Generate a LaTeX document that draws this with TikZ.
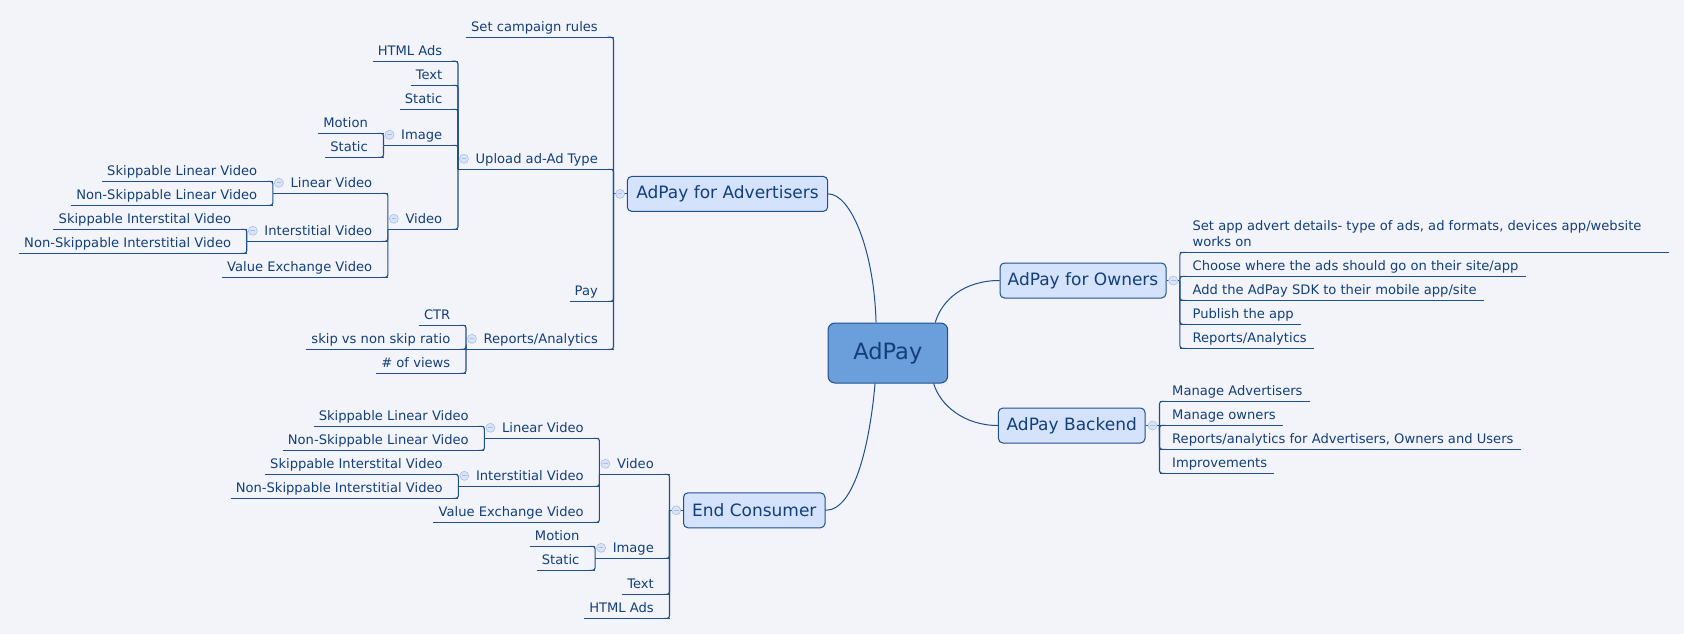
\documentclass[tikz,border=0pt]{standalone}
\usepackage{fontspec}
\setmainfont{DejaVu Sans}
\definecolor{bg}{HTML}{F3F4F9}
\definecolor{lnc}{HTML}{1F4F8C}
\definecolor{txc}{HTML}{123F7A}
\definecolor{ctrfill}{HTML}{6A9FDB}
\definecolor{brfill}{HTML}{D4E2FB}
\definecolor{colfill}{HTML}{D9E4F7}
\definecolor{coldraw}{HTML}{A9BFE6}
\tikzset{
  conn/.style={draw=lnc, line width=1.1pt},
  elbow/.style={conn, rounded corners=2.5pt},
  topicbase/.style={inner xsep=0pt, inner ysep=5.5pt, text height=10pt, text depth=0pt,
    text=txc, font=\fontsize{13.1}{16}\selectfont},
  leafL/.style={topicbase, anchor=south east,
    execute at begin node={\hspace{5pt}}, execute at end node={\hspace{15.5pt}}},
  parL/.style={topicbase, anchor=south east,
    execute at begin node={\hspace{17.5pt}}, execute at end node={\hspace{15.5pt}}},
  leafR/.style={topicbase, anchor=south west,
    execute at begin node={\hspace{12.5pt}}, execute at end node={\hspace{7pt}}},
  branch/.style={draw=lnc, line width=1pt, fill=brfill, rounded corners=4.5pt,
    minimum height=35pt, inner sep=0pt, text=txc, font=\fontsize{17}{20}\selectfont},
  centre/.style={draw=lnc, line width=1pt, fill=ctrfill, rounded corners=7pt,
    minimum width=119.7pt, minimum height=60pt, inner sep=0pt, text=txc,
    font=\fontsize{22.5}{27}\selectfont},
  collapse/.style={circle, draw=coldraw, fill=colfill, minimum size=9pt, inner sep=0pt,
    line width=0.6pt,
    path picture={\draw[coldraw, line width=0.9pt]
      ([xshift=-2.3pt]path picture bounding box.center) --
      ([xshift=2.3pt]path picture bounding box.center);}}
}
\begin{document}
\begin{tikzpicture}[x=1pt,y=-1pt]
\fill[bg] (0,0) rectangle (1684,634);
\useasboundingbox (0,0) rectangle (1684,634);

% centre and main branches
\node[centre] (ctr) at (887.85,353) {AdPay};
\node[branch, minimum width=200.4pt] (adv) at (727.5,193.9) {AdPay for Advertisers};
\node[branch, minimum width=166pt] (own) at (1083,280.5) {AdPay for Owners};
\node[branch, minimum width=146.6pt] (back) at (1071.7,425.5) {AdPay Backend};
\node[branch, minimum width=141.5pt] (ec) at (754.25,510.3) {End Consumer};

\coordinate (jA) at ([shift={(-13.3,0)}]adv.west);
\coordinate (jO) at ([shift={(13.4,0)}]own.east);
\coordinate (jB) at ([shift={(14,0)}]back.east);
\coordinate (jE) at ([shift={(-13.5,0)}]ec.west);

% Advertisers topics
\node[leafL] (scr) at (jA |- 0,37.3) {Set campaign rules};
\node[parL] (upl) at (jA |- 0,169.3) {Upload ad-Ad Type};
\node[leafL] (pay) at (jA |- 0,301.3) {Pay};
\node[parL] (rep) at (jA |- 0,349.3) {Reports/Analytics};
\node[leafL] (html) at (upl.south west |- 0,61.3) {HTML Ads};
\node[leafL] (txt) at (upl.south west |- 0,85.3) {Text};
\node[leafL] (sta) at (upl.south west |- 0,109.3) {Static};
\node[parL] (img) at (upl.south west |- 0,145.3) {Image};
\node[parL] (vid) at (upl.south west |- 0,229.3) {Video};
\node[leafL] (mot) at (img.south west |- 0,133.3) {Motion};
\node[leafL] (ista) at (img.south west |- 0,157.3) {Static};
\node[parL] (lin) at (vid.south west |- 0,193.3) {Linear Video};
\node[parL] (int) at (vid.south west |- 0,241.3) {Interstitial Video};
\node[leafL] (vev) at (vid.south west |- 0,277.3) {Value Exchange Video};
\node[leafL] (slv) at (lin.south west |- 0,181.3) {Skippable Linear Video};
\node[leafL] (nslv) at (lin.south west |- 0,205.3) {Non-Skippable Linear Video};
\node[leafL] (siv) at (int.south west |- 0,229.3) {Skippable Interstital Video};
\node[leafL] (nsiv) at (int.south west |- 0,253.3) {Non-Skippable Interstitial Video};
\node[leafL] (ctrr) at (rep.south west |- 0,325.3) {CTR};
\node[leafL] (skr) at (rep.south west |- 0,349.3) {skip vs non skip ratio};
\node[leafL] (nov) at (rep.south west |- 0,373.3) {\# of views};

% End Consumer topics
\node[parL] (evid) at (jE |- 0,474.3) {Video};
\node[parL] (eimg) at (jE |- 0,558.3) {Image};
\node[leafL] (etxt) at (jE |- 0,594.3) {Text};
\node[leafL] (ehtml) at (jE |- 0,618.3) {HTML Ads};
\node[parL] (elin) at (evid.south west |- 0,438.3) {Linear Video};
\node[parL] (eint) at (evid.south west |- 0,486.3) {Interstitial Video};
\node[leafL] (evev) at (evid.south west |- 0,522.3) {Value Exchange Video};
\node[leafL] (eslv) at (elin.south west |- 0,426.3) {Skippable Linear Video};
\node[leafL] (enslv) at (elin.south west |- 0,450.3) {Non-Skippable Linear Video};
\node[leafL] (esiv) at (eint.south west |- 0,474.3) {Skippable Interstital Video};
\node[leafL] (ensiv) at (eint.south west |- 0,498.3) {Non-Skippable Interstitial Video};
\node[leafL] (emot) at (eimg.south west |- 0,546.3) {Motion};
\node[leafL] (esta) at (eimg.south west |- 0,570.3) {Static};

% Owners topics
\node[topicbase, anchor=south west] (oset) at (jO |- 0,252.3)
  {\hspace{12.5pt}\parbox[b]{475.8pt}{\raggedright Set app advert details- type of ads, ad formats, devices app/website\\works on}};
\node[leafR] (ocho) at (jO |- 0,276.3) {Choose where the ads should go on their site/app};
\node[leafR] (oadd) at (jO |- 0,300.3) {Add the AdPay SDK to their mobile app/site};
\node[leafR] (opub) at (jO |- 0,324.3) {Publish the app};
\node[leafR] (orep) at (jO |- 0,348.3) {Reports/Analytics};

% Backend topics
\node[leafR] (bma) at (jB |- 0,401.3) {Manage Advertisers};
\node[leafR] (bmo) at (jB |- 0,425.3) {Manage owners};
\node[leafR] (bra) at (jB |- 0,449.3) {Reports/analytics for Advertisers, Owners and Users};
\node[leafR] (bim) at (jB |- 0,473.3) {Improvements};

% underlines
\foreach \n in {scr,upl,pay,rep,html,txt,sta,img,vid,mot,ista,lin,int,vev,slv,nslv,siv,nsiv,ctrr,skr,nov,
  evid,eimg,etxt,ehtml,elin,eint,evev,eslv,enslv,esiv,ensiv,emot,esta,
  oset,ocho,oadd,opub,orep,bma,bmo,bra,bim}
  \draw[conn] (\n.south west) -- (\n.south east);

% curved connectors from the centre
\draw[conn, line width=1pt] (adv.east) .. controls +(22.3,0) and +(-2,-73) .. ([shift={(-11.8,0)}]ctr.north);
\draw[conn, line width=1pt] ([shift={(47.4,0)}]ctr.north) .. controls +(6.7,-23) and +(-35,0) .. (own.west);
\draw[conn, line width=1pt] ([shift={(45.8,0)}]ctr.south) .. controls +(6.4,22) and +(-33.4,0) .. (back.west);
\draw[conn, line width=1pt] ([shift={(-12.8,0)}]ctr.south) .. controls +(-5,57) and +(30,0) .. (ec.east);

% branch to junction
\draw[conn] (adv.west) -- (jA);
\draw[conn] (own.east) -- (jO);
\draw[conn] (back.east) -- (jB);
\draw[conn] (ec.west) -- (jE);

% elbows, left side
\foreach \c in {scr,upl,pay,rep} \draw[elbow] (jA) |- ([shift={(-6,0)}]\c.south east);
\foreach \c in {html,txt,sta,img,vid} \draw[elbow] (upl.south west) |- ([shift={(-6,0)}]\c.south east);
\foreach \c in {mot,ista} \draw[elbow] (img.south west) |- ([shift={(-6,0)}]\c.south east);
\foreach \c in {lin,int,vev} \draw[elbow] (vid.south west) |- ([shift={(-6,0)}]\c.south east);
\foreach \c in {slv,nslv} \draw[elbow] (lin.south west) |- ([shift={(-6,0)}]\c.south east);
\foreach \c in {siv,nsiv} \draw[elbow] (int.south west) |- ([shift={(-6,0)}]\c.south east);
\foreach \c in {ctrr,skr,nov} \draw[elbow] (rep.south west) |- ([shift={(-6,0)}]\c.south east);
\foreach \c in {evid,eimg,etxt,ehtml} \draw[elbow] (jE) |- ([shift={(-6,0)}]\c.south east);
\foreach \c in {elin,eint,evev} \draw[elbow] (evid.south west) |- ([shift={(-6,0)}]\c.south east);
\foreach \c in {eslv,enslv} \draw[elbow] (elin.south west) |- ([shift={(-6,0)}]\c.south east);
\foreach \c in {esiv,ensiv} \draw[elbow] (eint.south west) |- ([shift={(-6,0)}]\c.south east);
\foreach \c in {emot,esta} \draw[elbow] (eimg.south west) |- ([shift={(-6,0)}]\c.south east);
% elbows, right side
\foreach \c in {oset,ocho,oadd,opub,orep} \draw[elbow] (jO) |- ([shift={(6,0)}]\c.south west);
\foreach \c in {bma,bmo,bra,bim} \draw[elbow] (jB) |- ([shift={(6,0)}]\c.south west);

% collapse markers
\node[collapse] (kadv) at ([shift={(-6.65,0)}]adv.west) {};
\node[collapse] (kown) at ([shift={(6.7,0)}]own.east) {};
\node[collapse] (kback) at ([shift={(7,0)}]back.east) {};
\node[collapse] (kec) at ([shift={(-6.75,0)}]ec.west) {};
\foreach \p in {upl,rep,img,vid,lin,int,evid,eimg,elin,eint}
  \node[collapse] (k\p) at ([shift={(6,-10.5)}]\p.south west) {};
\end{tikzpicture}
\end{document}
